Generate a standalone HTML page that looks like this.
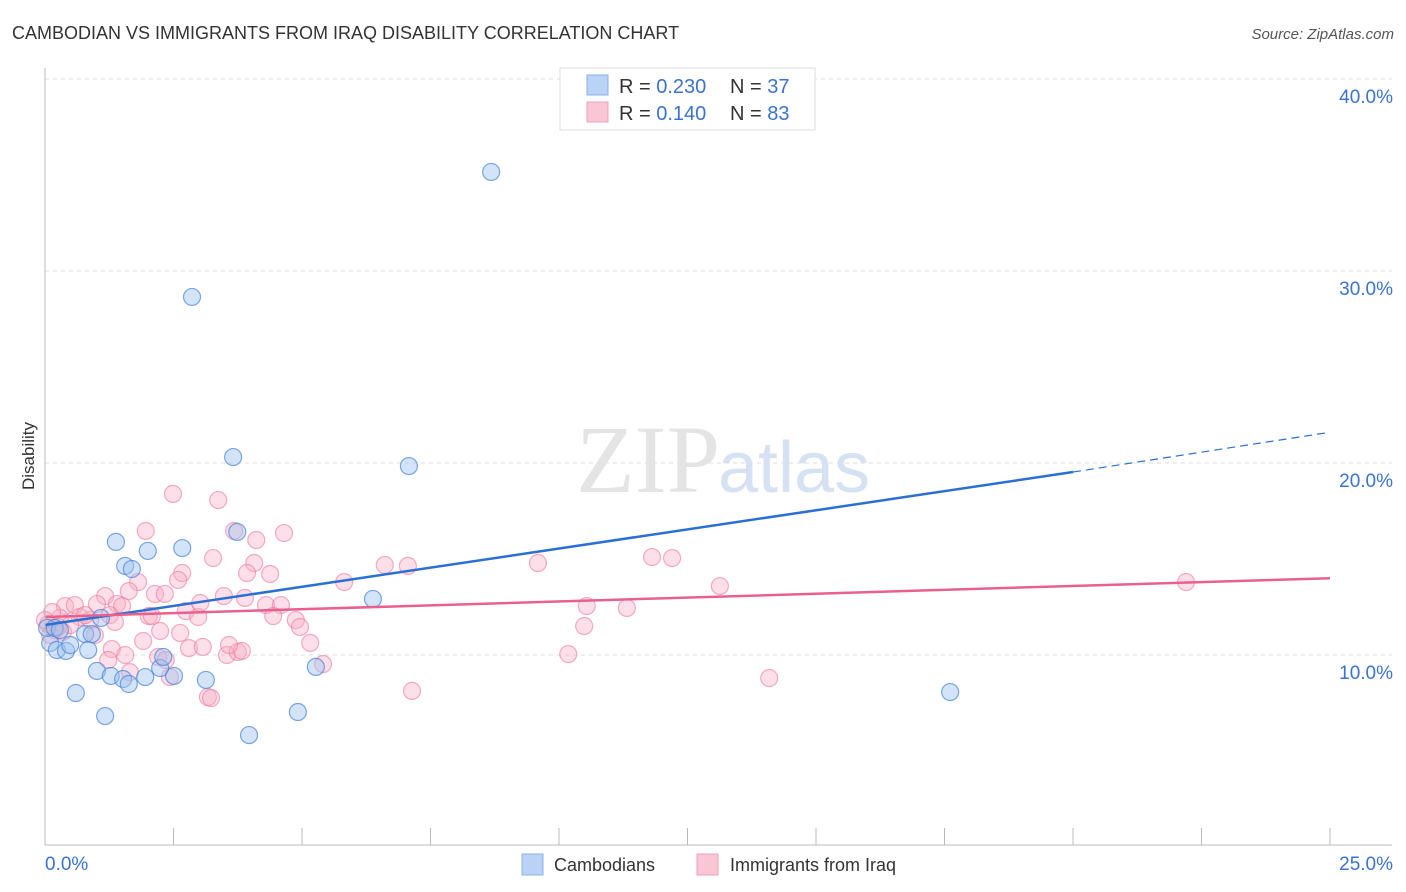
<!DOCTYPE html>
<html><head><meta charset="utf-8"><style>
body{margin:0;background:#fff;font-family:"Liberation Sans",sans-serif;}
svg{display:block}
</style></head><body>
<svg id="chart" width="1406" height="892">
<text x="12" y="39" font-size="18" fill="#333">CAMBODIAN VS IMMIGRANTS FROM IRAQ DISABILITY CORRELATION CHART</text>
<text x="1394" y="39" font-size="15" fill="#555" font-style="italic" text-anchor="end">Source: ZipAtlas.com</text>
<text x="0" y="0" transform="translate(34,456) rotate(-90)" font-size="17" fill="#333" text-anchor="middle">Disability</text>
<g id="grid"></g>
<text x="720" y="492" font-size="96" fill="#e4e4e4" font-family="Liberation Serif,serif" text-anchor="end">ZIP</text>
<text x="718" y="492" font-size="72" fill="#d6e2f4">atlas</text>
<g id="pts"></g>
<g id="lines"></g>
<g id="axes"></g>
<g>
<rect x="560" y="68" width="255" height="62" fill="#fff" stroke="#ddd"/>
<rect x="587" y="75" width="21" height="20" fill="#b9d2f5" stroke="#8ab0e6"/>
<rect x="587" y="102" width="21" height="20" fill="#f9c6d5" stroke="#f0a0b9"/>
<text x="619" y="93" font-size="20" fill="#333">R = <tspan fill="#3a73d0">0.230</tspan></text>
<text x="730" y="93" font-size="20" fill="#333">N = <tspan fill="#3a73d0">37</tspan></text>
<text x="619" y="120" font-size="20" fill="#333">R = <tspan fill="#3a73d0"> 0.140</tspan></text>
<text x="730" y="120" font-size="20" fill="#333">N = <tspan fill="#3a73d0">83</tspan></text>
</g>
<g>
<rect x="522" y="854" width="21" height="21" fill="#b9d2f5" stroke="#8ab0e6"/>
<text x="554" y="871" font-size="18" fill="#333">Cambodians</text>
<rect x="697" y="854" width="21" height="21" fill="#f9c6d5" stroke="#f0a0b9"/>
<text x="730" y="871" font-size="18" fill="#333">Immigrants from Iraq</text>
</g>
</svg>
<script>
const yTicks=[10,20,30,40];
const yTickLabels=["10.0%","20.0%","30.0%","40.0%"];
const xTickLabels=["0.0%","25.0%"];
const blueX=[8.68,2.86,3.66,7.08,1.38,2.00,2.67,3.74,1.56,1.69,6.38,1.09,0.78,0.10,0.23,0.41,0.49,0.84,0.04,1.01,1.28,1.52,1.63,1.95,2.24,2.30,2.51,3.13,0.60,1.17,4.92,5.27,3.97,17.61,0.19,0.29,0.91];
const blueY=[35.16,28.65,20.31,19.84,15.89,15.42,15.57,16.41,14.64,14.48,12.92,11.93,11.09,10.63,10.26,10.21,10.52,10.26,11.41,9.17,8.91,8.75,8.49,8.85,9.32,9.90,8.91,8.70,8.02,6.82,7.03,9.38,5.83,8.07,11.41,11.30,11.09];
const pinkX=[2.49,3.37,1.96,3.68,4.65,4.11,3.27,4.07,3.93,4.38,2.67,2.59,1.81,1.63,1.17,2.14,2.33,1.40,1.50,1.01,2.74,2.98,2.02,2.08,3.48,4.30,4.59,4.44,4.88,4.96,5.16,2.63,1.91,1.30,1.56,1.23,1.65,2.20,2.43,2.80,3.07,3.54,3.75,3.83,3.58,3.17,3.23,5.41,6.61,7.06,5.82,9.59,11.81,12.20,13.13,10.54,11.32,10.49,10.18,7.14,14.09,22.20,0.39,0.58,0.68,0.88,0.29,0.14,0.19,0.35,0.49,0.97,0.06,1.26,1.36,0.78,2.24,2.35,3.02,3.89,0.0,0.10,0.25];
const pinkY=[18.39,18.07,16.46,16.46,16.35,15.99,15.05,14.79,14.27,14.22,14.27,13.91,13.80,13.33,13.07,13.18,13.18,12.66,12.55,12.66,12.29,11.98,12.03,12.03,13.07,12.60,12.60,12.03,11.82,11.46,10.63,11.15,10.73,10.31,10.00,9.74,9.11,9.90,8.85,10.36,10.42,10.00,10.16,10.21,10.52,7.81,7.76,9.53,14.69,14.64,13.80,14.79,15.10,15.05,13.59,12.55,12.45,11.51,10.05,8.13,8.80,13.80,12.55,12.60,11.98,11.82,11.93,12.24,11.30,11.20,11.56,11.04,11.61,12.08,11.72,12.08,11.25,9.74,12.71,12.97,11.82,11.04,11.46];
const blueTrend=[11.56,19.53,21.6];
const blueTrendX=[0,20,25];
const pinkTrend=[11.98,14.0];
const pinkTrendX=[0,25];
const NS="http://www.w3.org/2000/svg";
const X0=45,X1=1330,Y0=847,PXY=19.2;
const sx=v=>X0+v*(X1-X0)/25;
const sy=v=>Y0-v*PXY;
function mk(tag,attrs,parent){const e=document.createElementNS(NS,tag);for(const k in attrs)e.setAttribute(k,attrs[k]);parent.appendChild(e);return e;}
const grid=document.getElementById('grid'),axes=document.getElementById('axes'),pts=document.getElementById('pts'),lines=document.getElementById('lines');
yTicks.forEach((t,i)=>{
 const l=mk('line',{x1:X0,x2:1392,y1:sy(t),y2:sy(t),stroke:'#ddd','stroke-dasharray':'4,4'},grid);
 
 
 const tx=mk('text',{x:1393,y:sy(t)+24,'font-size':19,fill:'#3a73d0','text-anchor':'end'},axes);
 tx.textContent=yTickLabels[i];
 
 
});
let a=mk('line',{x1:X0,x2:X0,y1:68,y2:845,stroke:'#bbb'},axes);


a=mk('line',{x1:X0,x2:1392,y1:845,y2:845,stroke:'#bbb'},axes);


for(let i=0;i<=10;i++){
 const t=mk('line',{x1:sx(i*2.5),x2:sx(i*2.5),y1:828,y2:845,stroke:'#bbb'},axes);
 
 
}
let xl=mk('text',{x:45,y:870,'font-size':19,fill:'#3a73d0'},axes);xl.textContent=xTickLabels[0];


xl=mk('text',{x:1393,y:870,'font-size':19,fill:'#3a73d0','text-anchor':'end'},axes);xl.textContent=xTickLabels[1];


pinkX.forEach((x,i)=>{
 const c=mk('circle',{cx:sx(x),cy:sy(pinkY[i]),r:8.5,fill:'rgba(248,176,198,0.4)',stroke:'rgba(236,120,158,0.6)','stroke-width':1.2},pts);
 
 
});
blueX.forEach((x,i)=>{
 const c=mk('circle',{cx:sx(x),cy:sy(blueY[i]),r:8.5,fill:'rgba(160,196,240,0.45)',stroke:'rgba(70,130,220,0.7)','stroke-width':1.2},pts);
 
 
});
let ln=mk('line',{x1:sx(blueTrendX[0]),y1:sy(blueTrend[0]),x2:sx(blueTrendX[1]),y2:sy(blueTrend[1]),stroke:'#2a6fd6','stroke-width':2.5},lines);


ln=mk('line',{x1:sx(blueTrendX[1]),y1:sy(blueTrend[1]),x2:sx(blueTrendX[2]),y2:sy(blueTrend[2]),stroke:'#2a6fd6','stroke-width':1.2,'stroke-dasharray':'8,5'},lines);


ln=mk('line',{x1:sx(pinkTrendX[0]),y1:sy(pinkTrend[0]),x2:sx(pinkTrendX[1]),y2:sy(pinkTrend[1]),stroke:'#e8608c','stroke-width':2.5},lines);


</script>
</body></html>
